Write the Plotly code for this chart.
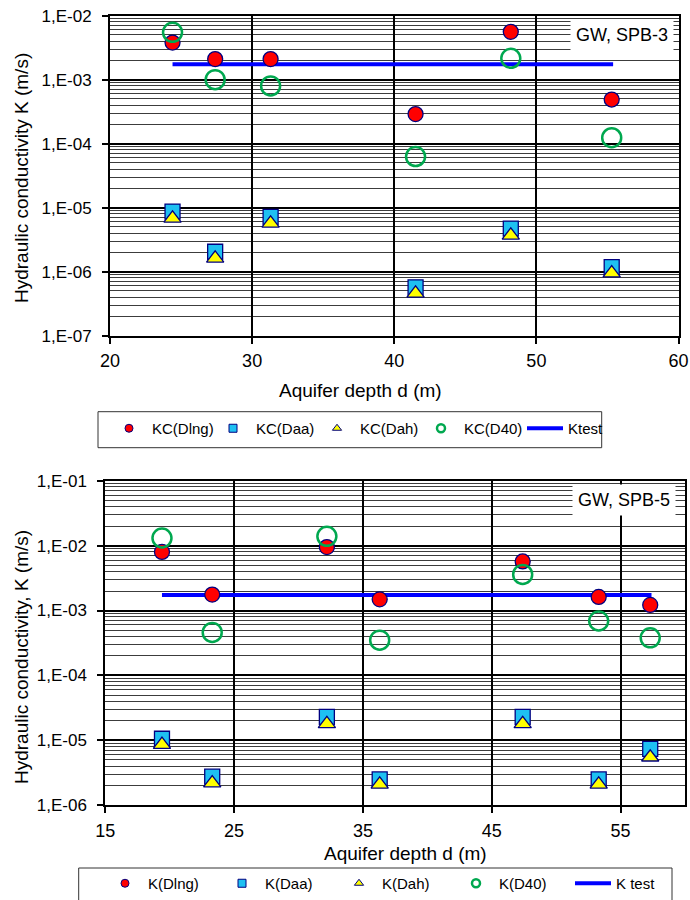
import plotly.graph_objects as go

# ---------------- data: top chart (GW, SPB-3) ----------------
depth_top = [24.4, 27.4, 31.3, 41.5, 48.2, 55.3]
kc_dlng = [3.8e-3, 2.1e-3, 2.1e-3, 2.9e-4, 5.6e-3, 4.9e-4]
kc_daa = [8.7e-6, 2.05e-6, 7.2e-6, 5.7e-7, 4.7e-6, 1.18e-6]
kc_dah = [6.8e-6, 1.62e-6, 5.7e-6, 4.6e-7, 3.7e-6, 9.5e-7]
kc_d40 = [5.5e-3, 1.0e-3, 8.0e-4, 6.3e-5, 2.16e-3, 1.24e-4]
ktest_top_x = [24.4, 55.4]
ktest_top_y = [1.74e-3, 1.74e-3]

# ---------------- data: bottom chart (GW, SPB-5) ----------------
depth_bot = [19.4, 23.3, 32.2, 36.3, 47.4, 53.3, 57.3]
k_dlng = [8.0e-3, 1.76e-3, 9.5e-3, 1.49e-3, 5.7e-3, 1.62e-3, 1.22e-3]
k_daa = [1.06e-5, 2.76e-6, 2.3e-5, 2.5e-6, 2.3e-5, 2.5e-6, 7.4e-6]
k_dah = [8.6e-6, 2.2e-6, 1.8e-5, 2.1e-6, 1.8e-5, 2.1e-6, 5.5e-6]
k_d40 = [1.31e-2, 4.6e-4, 1.39e-2, 3.5e-4, 3.6e-3, 6.9e-4, 3.8e-4]
ktest_bot_x = [19.4, 57.4]
ktest_bot_y = [1.74e-3, 1.74e-3]

# tick labels
yt_top_vals = [1e-7, 1e-6, 1e-5, 1e-4, 1e-3, 1e-2]
yt_top_text = ["1,E-07", "1,E-06", "1,E-05", "1,E-04", "1,E-03", "1,E-02"]
yt_bot_vals = [1e-6, 1e-5, 1e-4, 1e-3, 1e-2, 1e-1]
yt_bot_text = ["1,E-06", "1,E-05", "1,E-04", "1,E-03", "1,E-02", "1,E-01"]

FONT = "Liberation Sans, Arial, sans-serif"
W, H = 690, 900
NAVY = "#000080"
RED = "#FF0000"
CYAN = "#1EC0F2"
YELLOW = "#FFFF00"
GREEN = "#00A84F"
BLUE = "#0000FF"


def px_x(p):
    return p / W


def px_y(p):
    return 1 - p / H


def minor_vals(lo, hi):
    out = []
    for e in range(lo, hi):
        for k in range(2, 10):
            out.append(k * 10.0 ** e)
    return out


fig = go.Figure()


def add_set(xa, ya, legend, x, dlng, daa, dah, d40, kx, ky, names):
    fig.add_trace(go.Scatter(x=kx, y=ky, mode="lines", line=dict(color=BLUE, width=4),
                             xaxis=xa, yaxis=ya, showlegend=False, hoverinfo="skip"))
    fig.add_trace(go.Scatter(x=x, y=dlng, mode="markers", xaxis=xa, yaxis=ya, showlegend=False,
                             marker=dict(symbol="circle", size=15, color=RED,
                                         line=dict(color=NAVY, width=1.3))))
    fig.add_trace(go.Scatter(x=x, y=daa, mode="markers", xaxis=xa, yaxis=ya, showlegend=False,
                             marker=dict(symbol="square", size=15, color=CYAN,
                                         line=dict(color=NAVY, width=1.3))))
    fig.add_trace(go.Scatter(x=x, y=dah, mode="markers", xaxis=xa, yaxis=ya, showlegend=False,
                             marker=dict(symbol="triangle-up", size=15, color=YELLOW,
                                         line=dict(color=NAVY, width=1.3))))
    fig.add_trace(go.Scatter(x=x, y=d40, mode="markers", xaxis=xa, yaxis=ya, showlegend=False,
                             marker=dict(symbol="circle-open", size=19, color=GREEN,
                                         line=dict(color=GREEN, width=2.5))))
    leg_specs = [
        dict(mode="markers", marker=dict(symbol="circle", size=8, color=RED, line=dict(color=NAVY, width=1))),
        dict(mode="markers", marker=dict(symbol="square", size=8, color=CYAN, line=dict(color=NAVY, width=1))),
        dict(mode="markers", marker=dict(symbol="triangle-up", size=8, color=YELLOW, line=dict(color=NAVY, width=1))),
        dict(mode="markers", marker=dict(symbol="circle-open", size=8, color=GREEN, line=dict(color=GREEN, width=2.5))),
        dict(mode="lines", line=dict(color=BLUE, width=4)),
    ]
    for nm, spec in zip(names, leg_specs):
        fig.add_trace(go.Scatter(x=[None], y=[None], name=nm, xaxis=xa, yaxis=ya,
                                 legend=legend, showlegend=True, **spec))


add_set("x", "y", "legend", depth_top, kc_dlng, kc_daa, kc_dah, kc_d40,
        ktest_top_x, ktest_top_y, ["KC(Dlng)", "KC(Daa)", "KC(Dah)", "KC(D40)", "Ktest"])
add_set("x2", "y2", "legend2", depth_bot, k_dlng, k_daa, k_dah, k_d40,
        ktest_bot_x, ktest_bot_y, ["K(Dlng)", "K(Daa)", "K(Dah)", "K(D40)", "K test"])

axis_common = dict(showline=True, mirror=True, linecolor="black", linewidth=2,
                   ticks="outside", ticklen=6, tickwidth=2, tickcolor="black",
                   zeroline=False, showgrid=True, gridcolor="black", automargin=False)
xfont = dict(family=FONT, size=18, color="black")
yfont = dict(family=FONT, size=17, color="black")

fig.update_layout(
    width=W, height=H, autosize=False,
    margin=dict(l=0, r=0, t=0, b=0, pad=0),
    paper_bgcolor="white", plot_bgcolor="white",
    font=dict(family=FONT, color="black"),
    xaxis=dict(domain=[px_x(110), px_x(678.5)], anchor="y", range=[20, 60], tick0=20, dtick=10,
               gridwidth=1.5, tickfont=xfont, ticklabelstandoff=2, **axis_common),
    yaxis=dict(domain=[px_y(335.7), px_y(15.7)], anchor="x", type="log", range=[-7, -2],
               tickmode="array", tickvals=yt_top_vals, ticktext=yt_top_text, gridwidth=2,
               tickfont=yfont, ticklabelstandoff=7,
               minor=dict(tickmode="array", tickvals=minor_vals(-7, -2), showgrid=True,
                          gridcolor="#3c3c3c", gridwidth=1, ticks=""),
               **axis_common),
    xaxis2=dict(domain=[px_x(105.3), px_x(685)], anchor="y2", range=[15, 60], tick0=15, dtick=10,
                gridwidth=1.5, tickfont=xfont, ticklabelstandoff=2, **axis_common),
    yaxis2=dict(domain=[px_y(805.3), px_y(480.7)], anchor="x2", type="log", range=[-6, -1],
                tickmode="array", tickvals=yt_bot_vals, ticktext=yt_bot_text, gridwidth=2,
                tickfont=yfont, ticklabelstandoff=7,
                minor=dict(tickmode="array", tickvals=minor_vals(-6, -1), showgrid=True,
                           gridcolor="#3c3c3c", gridwidth=1, ticks=""),
                **axis_common),
    legend=dict(orientation="h", x=px_x(106), y=px_y(412), xanchor="left", yanchor="top",
                borderwidth=0, bgcolor="rgba(0,0,0,0)",
                font=dict(family=FONT, size=15, color="black"),
                entrywidth=53, entrywidthmode="pixels", itemwidth=36),
    legend2=dict(orientation="h", x=px_x(102), y=0, xanchor="left", yanchor="bottom",
                 borderwidth=0, bgcolor="rgba(0,0,0,0)",
                 font=dict(family=FONT, size=15, color="black"),
                 entrywidth=66, entrywidthmode="pixels", itemwidth=36),
    showlegend=True,
)

# legend frames
for (x0, y0, x1, y1) in [(98, 411.7, 601.7, 447.7), (78.7, 868, 672, 905)]:
    fig.add_shape(type="rect", xref="paper", yref="paper",
                  x0=px_x(x0), x1=px_x(x1), y0=px_y(y1), y1=px_y(y0),
                  line=dict(color="#333333", width=1), fillcolor="rgba(0,0,0,0)", layer="above")

annos = [
    dict(text="GW, SPB-3", x=px_x(621.5), y=px_y(35.5), font=dict(size=18)),
    dict(text="GW, SPB-5", x=px_x(624), y=px_y(500), font=dict(size=18)),
    dict(text="Aquifer depth d (m)", x=px_x(360), y=px_y(390), font=dict(size=19)),
    dict(text="Aquifer depth d (m)", x=px_x(405), y=px_y(853), font=dict(size=19)),
    dict(text="Hydraulic conductivity K (m/s)", x=px_x(21), y=px_y(178), textangle=-90, font=dict(size=19)),
    dict(text="Hydraulic conductivity, K (m/s)", x=px_x(21), y=px_y(657), textangle=-90, font=dict(size=19)),
]
for a in annos:
    is_box = a["text"].startswith("GW")
    fig.add_annotation(xref="paper", yref="paper", showarrow=False, xanchor="center", yanchor="middle",
                       text=a["text"], x=a["x"], y=a["y"], textangle=a.get("textangle", 0),
                       bgcolor="white" if is_box else None, borderpad=5 if is_box else 1,
                       font=dict(family=FONT, color="black", size=a["font"]["size"]))

fig.write_html("out.html", config={"displayModeBar": False},
               post_script="document.body.style.margin='0';document.body.style.padding='0';")
